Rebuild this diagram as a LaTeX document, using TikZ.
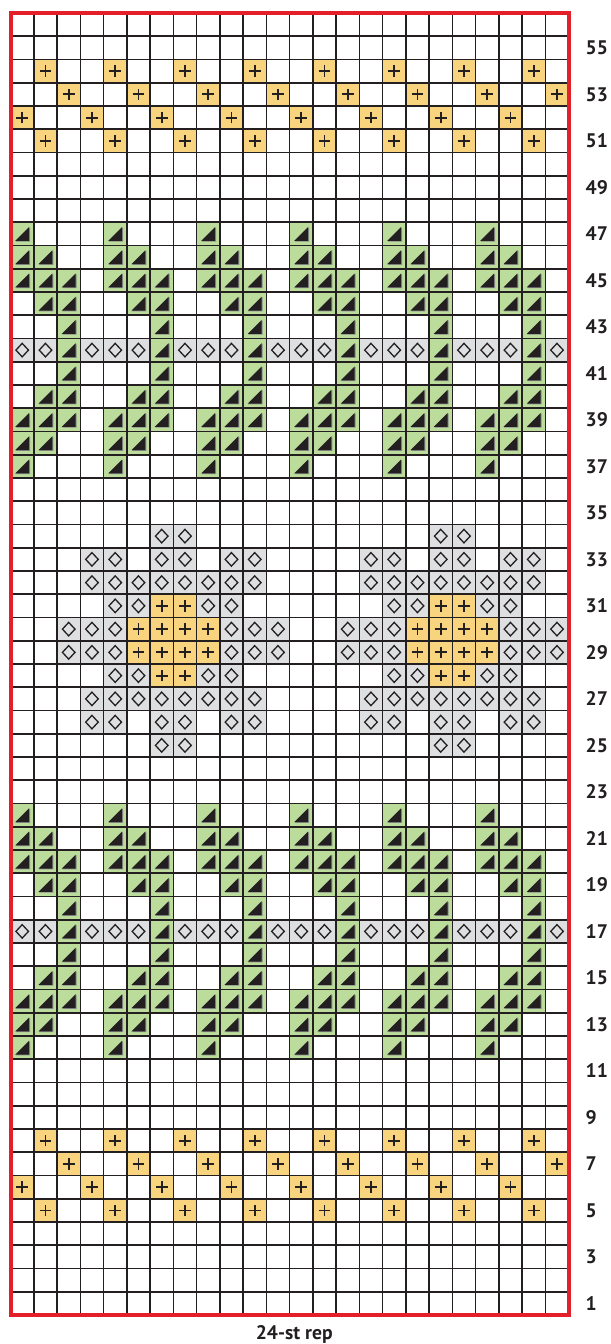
\documentclass[tikz,border=0pt]{standalone}
\usepackage{fontspec}
\setmainfont{PT Sans}

\definecolor{borderred}{HTML}{E3202A}
\definecolor{plusyellow}{HTML}{F8D47E}
\definecolor{leafgreen}{HTML}{BCDC9C}
\definecolor{dotgray}{HTML}{DEDFE0}
\definecolor{gridblack}{HTML}{231F20}

\tikzset{
	gridline/.style={gridblack,line width=1pt,step=0.5cm},
	frameline/.style={borderred,line width=2.5pt},
	plusmark/.style={gridblack,line width=1.1pt},
	diamark/.style={gridblack,line width=0.8pt,line join=miter},
	rowlabel/.style={anchor=west,inner sep=0pt,text=gridblack,
		font=\fontsize{12}{14}\selectfont\bfseries},
	replabel/.style={anchor=base,inner sep=0pt,text=gridblack,
		font=\fontsize{12}{14}\selectfont\bfseries}
}

\newcommand{\chartplus}[2]{%
	\fill[plusyellow] (#1-1,#2-1) rectangle (#1,#2);
	\draw[plusmark] (#1-0.5,#2-0.75) -- (#1-0.5,#2-0.25)
		(#1-0.75,#2-0.5) -- (#1-0.25,#2-0.5);}
\newcommand{\charttri}[2]{%
	\fill[leafgreen] (#1-1,#2-1) rectangle (#1,#2);
	\fill[black!45] (#1-0.77,#2-0.83) -- (#1-0.16,#2-0.83) -- (#1-0.16,#2-0.22) -- cycle;
	\fill[gridblack] (#1-0.8,#2-0.8) -- (#1-0.2,#2-0.8) -- (#1-0.2,#2-0.2) -- cycle;}
\newcommand{\chartdia}[2]{%
	\fill[dotgray] (#1-1,#2-1) rectangle (#1,#2);
	\draw[diamark] (#1-0.5,#2-0.79) -- (#1-0.23,#2-0.5) -- (#1-0.5,#2-0.21)
		-- (#1-0.77,#2-0.5) -- cycle;}

\begin{document}
\begin{tikzpicture}[x=0.5cm,y=0.5cm]
	
	\useasboundingbox (-0.455,-1.246) rectangle (25.783,56.559);
	
	% plus bands
	\foreach \r in {5,8,51,54} \foreach \c in {2,5,...,23} \chartplus{\c}{\r};
	\foreach \r in {7,53} \foreach \c in {3,6,...,24} \chartplus{\c}{\r};
	\foreach \r in {6,52} \foreach \c in {1,4,...,22} \chartplus{\c}{\r};
	
	% leaf bands
	\foreach \b in {22,47} {
		\foreach \o in {0,4,...,20} {
			\foreach \c/\d in {1/0,1/1,2/1,1/2,2/2,3/2,2/3,3/3,3/4,3/5,3/6,
				2/7,3/7,1/8,2/8,3/8,1/9,2/9,1/10}
				\charttri{\c+\o}{\b-\d};
			\foreach \c in {1,2,4} \chartdia{\c+\o}{\b-5};
		}
	}
	
	% flowers
	\foreach \o in {0,12} {
		\foreach \r in {25,34} \foreach \c in {7,8} \chartdia{\c+\o}{\r};
		\foreach \r in {26,33} \foreach \c in {4,5,7,8,10,11} \chartdia{\c+\o}{\r};
		\foreach \r in {27,32} \foreach \c in {4,...,11} \chartdia{\c+\o}{\r};
		\foreach \r in {28,31} {
			\foreach \c in {5,6,9,10} \chartdia{\c+\o}{\r};
			\foreach \c in {7,8} \chartplus{\c+\o}{\r};
		}
		\foreach \r in {29,30} {
			\foreach \c in {3,4,5,10,11,12} \chartdia{\c+\o}{\r};
			\foreach \c in {6,...,9} \chartplus{\c+\o}{\r};
		}
	}
	
	\draw[gridline] (0,0) grid (24,56);
	\draw[frameline] (0,0) rectangle (24,56);
	
	\foreach \r in {1,3,...,55}
		\node[rowlabel] (row\r) at (24.72,\r-0.5) {\r};
	\node[replabel] (rep) at (12.2,-1.045) {24-st rep};
	
\end{tikzpicture}
\end{document}
